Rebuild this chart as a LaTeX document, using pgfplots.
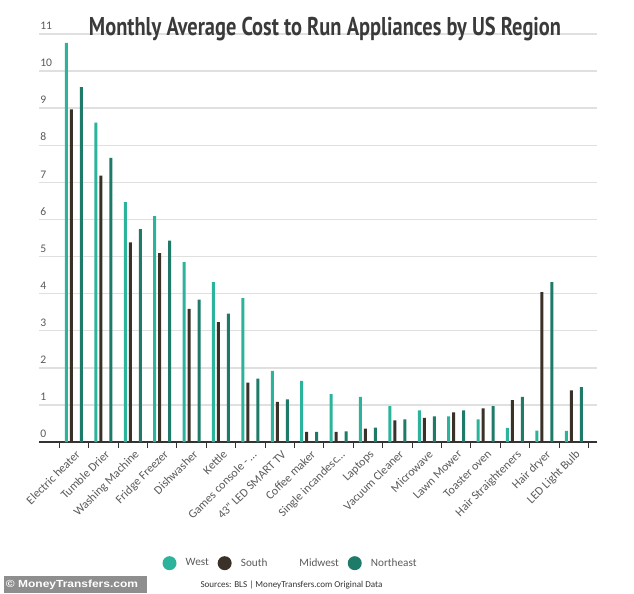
\documentclass[border=0pt]{standalone}
\usepackage{pgfplots}
\pgfplotsset{compat=1.18}
\usepackage{pgfplotstable}
\usepackage{graphicx}
\usepackage{fontspec}
\setmainfont{Carlito}
\newfontfamily\titlefont{PT Sans}
\newfontfamily\arialfont{Liberation Sans}
\definecolor{west}{RGB}{44,179,155}
\definecolor{south}{RGB}{58,49,40}
\definecolor{northeast}{RGB}{30,122,105}
\definecolor{gridc}{RGB}{224,224,224}
\definecolor{axisc}{RGB}{51,51,51}
\definecolor{tickc}{RGB}{90,90,90}
\definecolor{titlec}{RGB}{58,58,58}
\definecolor{copyc}{RGB}{142,142,142}

\pgfplotstableread{
x W S NE
0 10.76 8.97 9.57
1 8.61 7.18 7.66
2 6.47 5.38 5.74
3 6.09 5.09 5.43
4 4.85 3.59 3.84
5 4.31 3.23 3.46
6 3.88 1.60 1.71
7 1.92 1.08 1.15
8 1.65 0.27 0.27
9 1.29 0.27 0.29
10 1.22 0.36 0.39
11 0.97 0.58 0.61
12 0.85 0.65 0.69
13 0.69 0.80 0.85
14 0.61 0.91 0.97
15 0.38 1.13 1.22
16 0.31 4.04 4.31
17 0.30 1.39 1.48
}\datatable

\begin{document}
\begin{tikzpicture}
\path[use as bounding box] (0,0) rectangle (475.5pt,444.75pt);
\begin{axis}[
  at={(29.25pt,113.25pt)}, anchor=south west,
  scale only axis, width=418.5pt, height=306pt,
  xmin=-1.19, xmax=17.79, ymin=0, ymax=11,
  xtick={0,1,2,3,4,5,6,7,8,9,10,11,12,13,14,15,16,17},
  xticklabels={{Electric heater},{Tumble Drier},{Washing Machine},{Fridge Freezer},{Dishwasher},{Kettle},{Games console - \ldots},{43" LED SMART TV},{Coffee maker},{Single incandesc\ldots},{Laptops},{Vacuum Cleaner},{Microwave},{Lawn Mower},{Toaster oven},{Hair Straighteners},{Hair dryer},{LED Light Bulb}},
  minor xtick={-0.5,0.5,1.5,2.5,3.5,4.5,5.5,6.5,7.5,8.5,9.5,10.5,11.5,12.5,13.5,14.5,15.5,16.5,17.5},
  ytick={0,1,2,3,4,5,6,7,8,9,10,11},
  major tick length=0pt, minor tick length=4.5pt, tick align=outside,
  tick style={axisc, line width=0.75pt},
  ymajorgrids, major grid style={gridc, line width=1.1pt},
  axis x line*=bottom, axis y line*=left,
  y axis line style={draw=none},
  x axis line style={axisc, line width=1.5pt},
  /pgf/number format/assume math mode=true,
  yticklabel style={anchor=south west, inner sep=0pt, xshift=0.75pt, yshift=3pt, font=\fontsize{8.7}{9}\selectfont, text=tickc},
  xticklabel style={anchor=north east, inner sep=0pt, xshift=0.75pt, yshift=-5.25pt, rotate=45, font=\fontsize{9}{10}\selectfont, text=tickc},
  legend style={at={(0.449,-0.297)}, anchor=center, draw=none, fill=none, legend columns=4,
    font=\fontsize{8.4}{10}\selectfont, text=tickc, inner sep=0pt, nodes={inner sep=0pt},
    /tikz/every odd column/.append style={column sep=6.9pt},
    /tikz/every even column/.append style={column sep=6.6pt}},
]
\addplot[ybar, bar width=2.25pt, bar shift=-5.625pt, fill=west, draw=none,
  legend image code/.code={\fill (5.25pt,0pt) circle (5.25pt);}] table[x=x,y=W] {\datatable};
\addlegendentry{West}
\addplot[ybar, bar width=2.25pt, bar shift=-1.875pt, fill=south, draw=none,
  legend image code/.code={\fill (5.25pt,0pt) circle (5.25pt);}] table[x=x,y=S] {\datatable};
\addlegendentry{South}
\addlegendimage{legend image code/.code={\path[draw=none,fill=none] (0pt,-5.25pt) rectangle (10.5pt,5.25pt);}}
\addlegendentry{Midwest}
\addplot[ybar, bar width=2.25pt, bar shift=5.625pt, fill=northeast, draw=none,
  legend image code/.code={\fill (5.25pt,0pt) circle (5.25pt);}] table[x=x,y=NE] {\datatable};
\addlegendentry{Northeast}
\end{axis}
\node[anchor=base, text=titlec, inner sep=0pt] at (243.75pt,417.75pt)
  {\resizebox{354pt}{\height}{\titlefont\bfseries\fontsize{19.3}{20}\selectfont Monthly Average Cost to Run Appliances by US Region}};
\node[text=axisc, inner sep=0pt, font=\fontsize{6.8}{7}\selectfont] at (218.6pt,6pt)
  {Sources: BLS | MoneyTransfers.com Original Data};
\fill[copyc] (3pt,0pt) rectangle (110.25pt,12.75pt);
\node[text=white, inner sep=0pt] at (54pt,6.3pt)
  {\resizebox{99pt}{\height}{\arialfont\bfseries\fontsize{7.7}{8}\selectfont © MoneyTransfers.com}};
\end{tikzpicture}
\end{document}
